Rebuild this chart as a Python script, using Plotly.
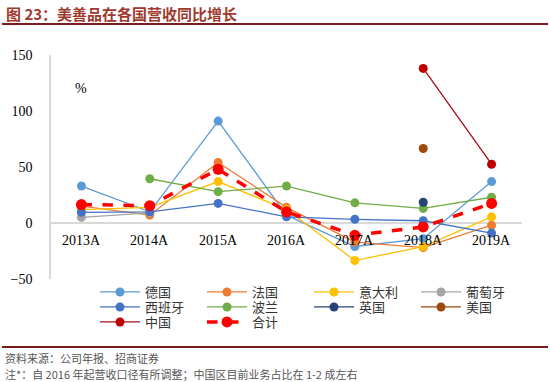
import plotly.graph_objects as go

categories = ["2013A", "2014A", "2015A", "2016A", "2017A", "2018A", "2019A"]

germany = [33, 10, 91, 7, -21, -14, 37]
france = [15, 7, 54, 14, -17, -22, -2]
italy = [12, 14, 37, 12, -33.5, -21, 5.5]
portugal = [5, 9, None, None, None, None, None]
spain = [9.5, 10, 17.5, 5.5, 3.3, 2, -9]
poland = [None, 39.5, 28, 33, 18, 13, 23]
uk = [None, None, None, None, None, 18.5, None]
usa = [None, None, None, None, None, 66.5, None]
china = [None, None, None, None, None, 138, 52.5]
total = [16.5, 15.5, 48, 10, -11, -3.5, 17.5]

W, H = 550, 382
ML, MR, MT, MB = 51, 28, 55, 103
PW, PH = W - ML - MR, H - MT - MB


def px(x):
    return (x - ML) / PW


def py(y):
    return (H - MB - y) / PH


series = [
    ("德国", germany, "#5B9BD5", "#5B9BD5", "legend"),
    ("法国", france, "#ED7D31", "#ED7D31", "legend"),
    ("意大利", italy, "#FFC000", "#FFC000", "legend"),
    ("葡萄牙", portugal, "#A5A5A5", "#A5A5A5", "legend"),
    ("西班牙", spain, "#4472C4", "#4472C4", "legend2"),
    ("波兰", poland, "#70AD47", "#70AD47", "legend2"),
    ("英国", uk, "#264478", "#264478", "legend2"),
    ("美国", usa, "#9E480E", "#9E480E", "legend2"),
    ("中国", china, "#A50F15", "#C00000", "legend3"),
]

fig = go.Figure()
for name, vals, lc, mc, lg in series:
    fig.add_trace(go.Scatter(
        x=categories, y=vals, name=name, mode="lines+markers",
        line=dict(color=lc, width=1.3),
        marker=dict(color=mc, size=9),
        legend=lg, connectgaps=False,
    ))
fig.add_trace(go.Scatter(
    x=categories, y=total, name="合计", mode="lines+markers",
    line=dict(color="#FF0000", width=3.5, dash="dash"),
    marker=dict(color="#FF0000", size=11),
    legend="legend3",
))

leg_common = dict(orientation="h", xanchor="left", yanchor="middle",
                  entrywidth=52, entrywidthmode="pixels",
                  font=dict(family="Noto Sans CJK SC", size=13, color="#333333"),
                  bgcolor="rgba(0,0,0,0)", itemwidth=40, tracegroupgap=0)
legend_x = px(95)

fig.update_layout(
    width=W, height=H,
    margin=dict(l=ML, r=MR, t=MT, b=MB, autoexpand=False),
    paper_bgcolor="white", plot_bgcolor="white",
    font=dict(family="Liberation Serif", size=14, color="#000000"),
    legend=dict(x=legend_x, y=py(292), **leg_common),
    legend2=dict(x=legend_x, y=py(307), **leg_common),
    legend3=dict(x=legend_x, y=py(322), **leg_common),
    xaxis=dict(showticklabels=False, showgrid=False, zeroline=False,
               showline=False, ticks=""),
    yaxis=dict(range=[-50, 150], tickvals=[-50, 0, 50, 100, 150],
               showgrid=False, zeroline=True, zerolinecolor="#D9D9D9",
               zerolinewidth=1.5, showline=True, linecolor="#D9D9D9",
               linewidth=1.5, ticks="", ticklabelstandoff=14,
               tickfont=dict(family="Liberation Serif", size=14, color="#000000")),
)

for c in categories:
    fig.add_annotation(x=c, y=-16, xref="x", yref="y", text=c, showarrow=False,
                       font=dict(family="Liberation Serif", size=14, color="#000000"))

fig.add_annotation(x=px(73), y=py(79), xref="paper", yref="paper", text="%",
                   showarrow=False, font=dict(family="Liberation Serif", size=14, color="#000000"))

fig.add_annotation(x=px(4), y=py(13), xref="paper", yref="paper",
                   text="<b>图 23：美善品在各国营收同比增长</b>", showarrow=False,
                   xanchor="left", yanchor="middle",
                   font=dict(family="Noto Sans CJK SC", size=15, color="#A0392E"))
fig.add_shape(type="line", xref="paper", yref="paper", x0=px(2), x1=px(548),
              y0=py(24), y1=py(24), line=dict(color="#7B1C1C", width=2))
fig.add_shape(type="line", xref="paper", yref="paper", x0=px(2), x1=px(548),
              y0=py(347), y1=py(347), line=dict(color="#7B1C1C", width=2))
fig.add_annotation(x=px(3), y=py(358), xref="paper", yref="paper",
                   text="资料来源：公司年报、招商证券", showarrow=False,
                   xanchor="left", yanchor="middle",
                   font=dict(family="Noto Sans CJK SC", size=11, color="#555555"))
fig.add_annotation(x=px(3), y=py(374), xref="paper", yref="paper",
                   text="注*：自 2016 年起营收口径有所调整；中国区目前业务占比在 1-2 成左右",
                   showarrow=False, xanchor="left", yanchor="middle",
                   font=dict(family="Noto Sans CJK SC", size=11, color="#555555"))

fig.write_html("out.html", config={"displayModeBar": False},
               post_script="document.body.style.margin='0';document.body.style.overflow='hidden';")
